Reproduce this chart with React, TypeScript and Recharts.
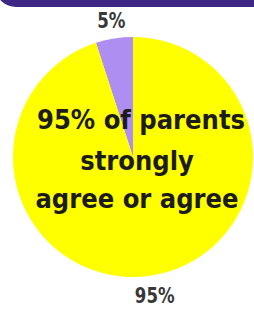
import React from "react";
import { PieChart, Pie, Cell } from "recharts";

const categories = ["Disagree or neutral", "Strongly agree or agree"];
const values = [5, 95];
const valueLabels = ["5%", "95%"];
const sliceColors = ["#ae8ef0", "#ffff00"];
const titleLines = ["95% of parents", "strongly", "agree or agree"];

const data = categories.map((name, i) => ({ name, value: values[i], label: valueLabels[i] }));

const RAD = Math.PI / 180;

const renderLabel = (props: any) => {
  const { cx, cy, midAngle, outerRadius, index } = props;
  const r = outerRadius + 19;
  const x = cx + r * Math.cos(-midAngle * RAD);
  const y = cy + r * Math.sin(-midAngle * RAD) + 1;
  return (
    <text
      x={0}
      y={0}
      transform={`translate(${x},${y}) scale(0.84,1)`}
      textAnchor="middle"
      dominantBaseline="central"
      fill="#383838"
      fontFamily="'DejaVu Sans Condensed', sans-serif"
      fontWeight="bold"
      fontSize={22}
    >
      {data[index].label}
    </text>
  );
};

export default function App() {
  return (
    <div style={{ position: "absolute", left: 0, top: 0, width: 254, height: 309, background: "#ffffff" }}>
      <PieChart width={254} height={309} margin={{ top: 0, right: 0, bottom: 0, left: 0 }}>
        <rect x={-4} y={-30} width={300} height={37} rx={20} ry={20} fill="#3d2783" />
        <Pie
          data={data}
          dataKey="value"
          nameKey="name"
          cx={133}
          cy={157}
          outerRadius={120}
          startAngle={90}
          endAngle={450}
          stroke="none"
          label={renderLabel}
          labelLine={false}
          isAnimationActive={false}
        >
          {data.map((d, i) => (
            <Cell key={d.name} fill={sliceColors[i]} />
          ))}
        </Pie>
      </PieChart>
      <svg
        width={254}
        height={309}
        style={{ position: "absolute", left: 0, top: 0, pointerEvents: "none" }}
      >
        <text
          textAnchor="middle"
          fill="#1c1c1c"
          fontFamily="'DejaVu Sans Condensed', sans-serif"
          fontWeight="bold"
          fontSize={27}
        >
          <tspan x={141} y={129}>{titleLines[0]}</tspan>
          <tspan x={137} y={170}>{titleLines[1]}</tspan>
          <tspan x={137} y={208}>{titleLines[2]}</tspan>
        </text>
      </svg>
    </div>
  );
}
